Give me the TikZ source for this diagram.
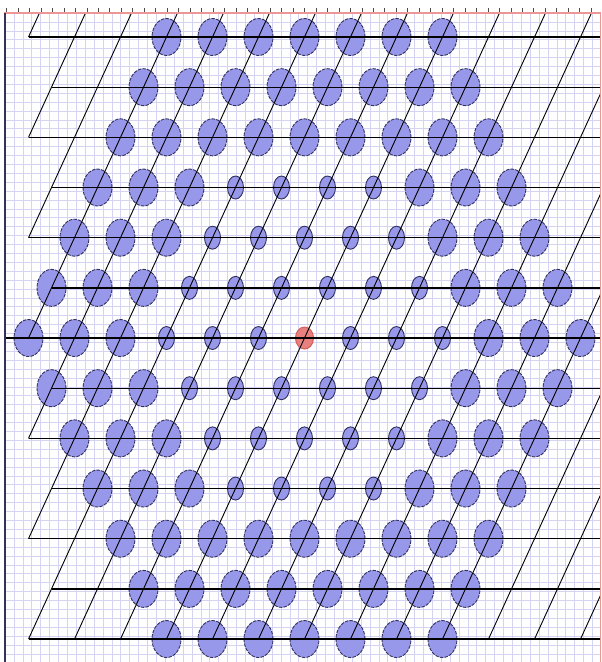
\documentclass[tikz,border=0pt]{standalone}
\usetikzlibrary{shapes.geometric}
\definecolor{gridc}{RGB}{212,212,242}
\definecolor{dotfill}{RGB}{152,152,234}
\definecolor{dotedge}{RGB}{48,48,96}
\definecolor{redfill}{RGB}{232,128,128}
\definecolor{rededge}{RGB}{212,92,92}
\definecolor{pinkline}{RGB}{236,150,150}
\definecolor{leftedge}{RGB}{50,50,90}
\tikzset{
  gridline/.style={draw=gridc,line width=0.6pt},
  bigdot/.style={ellipse,draw=dotedge,fill=dotfill,line width=0.9pt,dash pattern=on 3.5pt off 1.2pt,minimum width=29pt,minimum height=37pt,inner sep=0pt},
  smalldot/.style={ellipse,draw=dotedge,fill=dotfill,line width=0.9pt,minimum width=16pt,minimum height=23pt,inner sep=0pt},
  reddot/.style={ellipse,draw=rededge,fill=redfill,line width=1pt,minimum width=18pt,minimum height=22pt,inner sep=0pt},
  rowline/.style={draw=black,line width=1.3pt},
  slantline/.style={draw=black,line width=0.9pt},
  tickmark/.style={draw=black!70,line width=0.8pt}
}
\begin{document}
\begin{tikzpicture}[x=1pt,y=-1pt]
\useasboundingbox (0,0) rectangle (602,662);
\fill[white] (0,0) rectangle (602,662);
% background grid
\begin{scope}
\clip (5,13) rectangle (600,662);
\foreach \i in {0,...,67} \draw[gridline] ({5+8.9*\i},13) -- ({5+8.9*\i},662);
\foreach \j in {0,...,73} \draw[gridline] (5,{13+8.9*\j}) -- (600,{13+8.9*\j});
\end{scope}
% lattice dots
\foreach \r/\cmin/\cmax/\smin/\smax in {0/3/9/99/-1, 1/2/9/99/-1, 2/2/10/99/-1, 3/1/10/4/7, 4/1/11/4/8, 5/0/11/3/8, 6/0/12/3/9, 7/0/11/3/8, 8/1/11/4/8, 9/1/10/4/7, 10/2/10/99/-1, 11/2/9/99/-1, 12/3/9/99/-1}{
  \foreach \c in {\cmin,...,\cmax}{
    \pgfmathsetmacro{\px}{28.5+46*\c+23*mod(\r,2)}
    \pgfmathsetmacro{\py}{37+50.17*\r}
    \pgfmathtruncatemacro{\kind}{(\r==6 && \c==6) ? 2 : ((\c>=\smin && \c<=\smax) ? 1 : 0)}
    \ifcase\kind
      \node[bigdot] (p\r-\c) at (\px,\py) {};
    \or
      \node[smalldot] (p\r-\c) at (\px,\py) {};
    \or
      \node[reddot] (p\r-\c) at (\px,\py) {};
    \fi
  }
}
% lattice lines
\begin{scope}
\clip (5,13) rectangle (600,662);
\foreach \r in {0,...,12}{
  \pgfmathsetmacro{\py}{37+50.17*\r}
  \pgfmathsetmacro{\xs}{(\r==6) ? 5 : (28.5+23*mod(\r,2))}
  \draw[rowline] (\xs,\py) -- (600,\py);
}
\foreach \j in {0,...,12}{
  \pgfmathsetmacro{\xs}{28.5+46*\j}
  \pgfmathsetmacro{\xe}{\xs+23*(639.04-13)/50.17}
  \draw[slantline] (\xs,639.04) -- (\xe,13);
}
\foreach \r in {0,2,4,6,8,10}{
  \pgfmathsetmacro{\py}{37+50.17*\r}
  \pgfmathsetmacro{\xe}{28.5+23*(\py-13)/50.17}
  \draw[slantline] (28.5,\py) -- (\xe,13);
}
\end{scope}
% frame
\foreach \k in {0,...,51} \draw[tickmark] ({6.7+11.46*\k},8) -- ++(0,4.5);
\draw[pinkline,line width=2pt] (4,13) -- (601,13);
\draw[pinkline,line width=0.9pt] (600.5,13) -- (600.5,662);
\draw[leftedge,line width=1.3pt] (5,13) -- (5,662);
\end{tikzpicture}
\end{document}
